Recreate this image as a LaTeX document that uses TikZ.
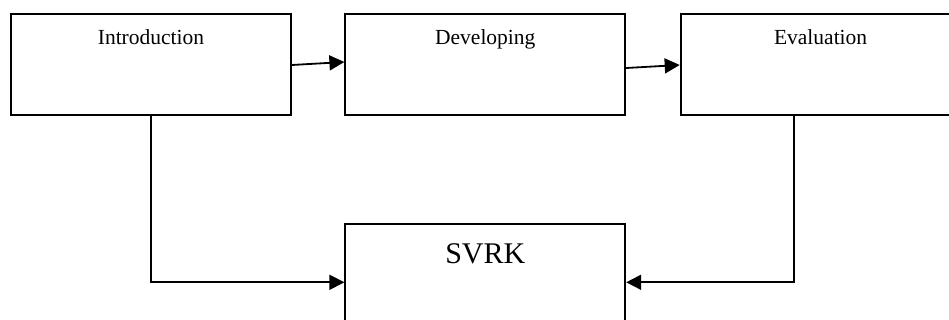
\documentclass[tikz,border=0pt]{standalone}
\usepackage{fontspec}
\setmainfont{Liberation Serif}
\usetikzlibrary{
  positioning,
  arrows.meta
}
\tikzset{%
  stage/.style={draw, line width=1.8pt, minimum width=280pt, minimum height=101pt,
    inner ysep=17pt, text height=14pt, text depth=53pt, font=\fontsize{21.5}{25}\selectfont},
  goal/.style={draw, line width=1.8pt, minimum width=280pt, minimum height=116pt,
    inner ysep=18pt, text height=21pt, text depth=59pt, font=\fontsize{30}{35}\selectfont},
  flow/.style={line width=1.8pt, -{Triangle[length=15pt, width=15pt]}}
}

\begin{document}
\begin{tikzpicture}
    \clip (0,0) rectangle (949pt,-320pt);
    \node[stage] (intro) at (151pt,-64.5pt) {Introduction};
    \node[stage, right=52.5pt of intro] (dev) {Developing};
    \node[stage, right=53.5pt of dev] (eval) {Evaluation};
    \node[goal, below=107.5pt of dev] (svrk) {SVRK};
    % stages in order
    \draw[flow] ([yshift=-0.5pt]intro.east) -- ([yshift=2.5pt]dev.west);
    \draw[flow] ([yshift=-3.5pt]dev.east) -- ([yshift=-0.5pt]eval.west);
    % both ends feed the result
    \draw[flow] (intro.south) |- (svrk.west);
    \draw[flow] ([xshift=-27pt]eval.south) |- (svrk.east);
\end{tikzpicture}
\end{document}
